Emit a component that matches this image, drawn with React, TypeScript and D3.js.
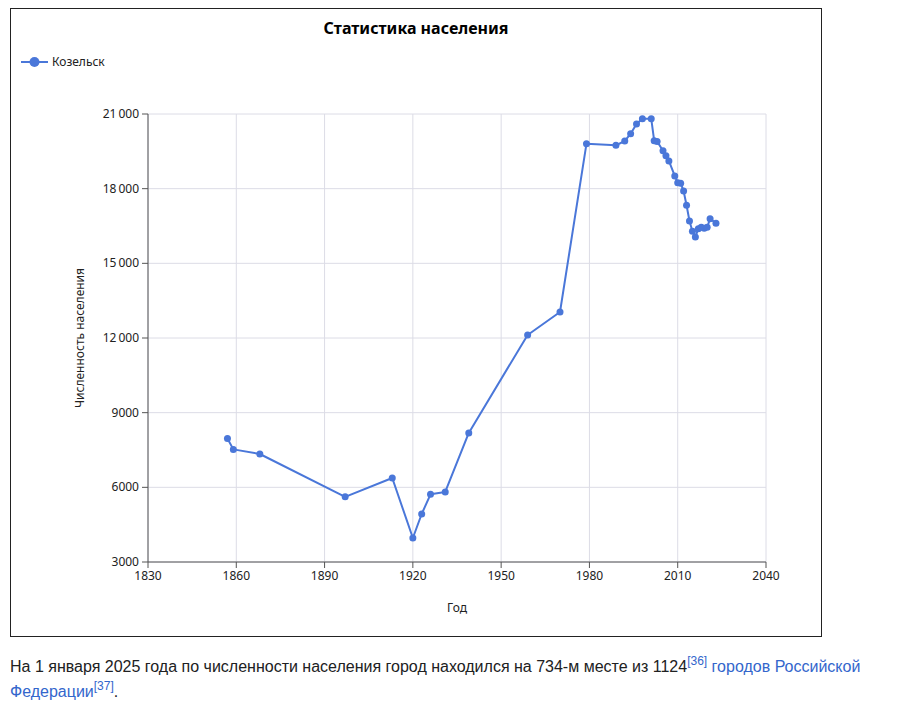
import React from "react";
import * as d3 from "d3";

const years = [1857, 1859, 1868, 1897, 1913, 1920, 1923, 1926, 1931, 1939, 1959, 1970, 1979, 1989, 1992, 1994, 1996, 1998, 2001, 2002, 2003, 2005, 2006, 2007, 2009, 2010, 2011, 2012, 2013, 2014, 2015, 2016, 2017, 2018, 2019, 2020, 2021, 2023];
const population = [7960, 7525, 7340, 5619, 6376, 3965, 4929, 5720, 5813, 8187, 12121, 13045, 19807, 19742, 19915, 20209, 20598, 20812, 20812, 19929, 19900, 19526, 19325, 19112, 18510, 18238, 18216, 17907, 17332, 16702, 16287, 16058, 16393, 16447, 16410, 16447, 16795, 16609];
const xTicks = [1830, 1860, 1890, 1920, 1950, 1980, 2010, 2040];
const yTicks = [3000, 6000, 9000, 12000, 15000, 18000, 21000];

const seriesName = "Козельск";
const title = "Статистика населения";
const xLabel = "Год";
const yLabel = "Численность населения";

const BLUE = "#4a77d9";
const GRID = "#dcdce6";
const FONT = "'Noto Sans', 'Open Sans', sans-serif";

const fmt = (v: number) => (v >= 10000 ? d3.format(",")(v).replace(",", "\u2009") : String(v));

export default function App() {
  const x = d3.scaleLinear().domain([1830, 2040]).range([148, 766]);
  const y = d3.scaleLinear().domain([3000, 21000]).range([562, 114]);
  const data = years.map((yr, i) => ({ yr, v: population[i] }));
  const line = d3
    .line<{ yr: number; v: number }>()
    .x((d) => x(d.yr))
    .y((d) => y(d.v));

  return (
    <svg
      width={905}
      height={712}
      style={{ position: "absolute", left: 0, top: 0, fontFamily: FONT }}
    >
      <rect x={0} y={0} width={905} height={712} fill="#fff" />
      <rect x={10.5} y={8.5} width={811} height={628} fill="none" stroke="#222" strokeWidth={1} />
      <text x={416} y={34} textAnchor="middle" fontSize={16} fontWeight="bold" fill="#000">
        {title}
      </text>
      {/* legend */}
      <line x1={21} x2={48} y1={62} y2={62} stroke={BLUE} strokeWidth={2} />
      <circle cx={34.5} cy={62} r={5} fill={BLUE} />
      <text x={52} y={66} fontSize={12} fill="#222">
        {seriesName}
      </text>
      {/* grid */}
      {xTicks.map((t) => (
        <line key={"gx" + t} x1={x(t)} x2={x(t)} y1={y(21000)} y2={y(3000)} stroke={GRID} strokeWidth={1} />
      ))}
      {yTicks.map((t) => (
        <line key={"gy" + t} x1={x(1830)} x2={x(2040)} y1={y(t)} y2={y(t)} stroke={GRID} strokeWidth={1} />
      ))}
      {/* axes */}
      <line x1={x(1830)} x2={x(1830)} y1={y(21000)} y2={y(3000)} stroke="#555" strokeWidth={1} />
      <line x1={x(1830)} x2={x(2040)} y1={y(3000)} y2={y(3000)} stroke="#555" strokeWidth={1} />
      {yTicks.map((t) => (
        <g key={"ty" + t}>
          <line x1={x(1830) - 6} x2={x(1830)} y1={y(t)} y2={y(t)} stroke="#555" />
          <text x={x(1830) - 9} y={y(t) + 4} textAnchor="end" fontSize={12} fill="#222">
            {fmt(t)}
          </text>
        </g>
      ))}
      {xTicks.map((t) => (
        <g key={"tx" + t}>
          <line x1={x(t)} x2={x(t)} y1={y(3000)} y2={y(3000) + 6} stroke="#555" />
          <text x={x(t)} y={y(3000) + 18} textAnchor="middle" fontSize={12} fill="#222">
            {t}
          </text>
        </g>
      ))}
      <text x={457} y={612} textAnchor="middle" fontSize={12} fill="#222">
        {xLabel}
      </text>
      <text
        transform={`translate(84, ${(y(3000) + y(21000)) / 2}) rotate(-90)`}
        textAnchor="middle"
        fontSize={12}
        fill="#222"
      >
        {yLabel}
      </text>
      {/* series */}
      <path d={line(data) || ""} fill="none" stroke={BLUE} strokeWidth={2} strokeLinejoin="round" />
      {data.map((d) => (
        <circle key={d.yr} cx={x(d.yr)} cy={y(d.v)} r={3.5} fill={BLUE} />
      ))}
      {/* paragraph below */}
      <g fontFamily="'Liberation Sans', Arial, sans-serif" fontSize={16}>
        <text x={10} y={672} fill="#202122">
          На 1 января 2025 года по численности населения город находился на 734-м месте из 1124
          <tspan fill="#3366cc" fontSize={12} dy={-7}>[36]</tspan>
          <tspan fill="#3366cc" dy={7}> городов Российской</tspan>
        </text>
        <text x={10} y={697} fill="#3366cc">
          Федерации
          <tspan fontSize={12} dy={-7}>[37]</tspan>
          <tspan fill="#202122" dy={7}>.</tspan>
        </text>
      </g>
    </svg>
  );
}
